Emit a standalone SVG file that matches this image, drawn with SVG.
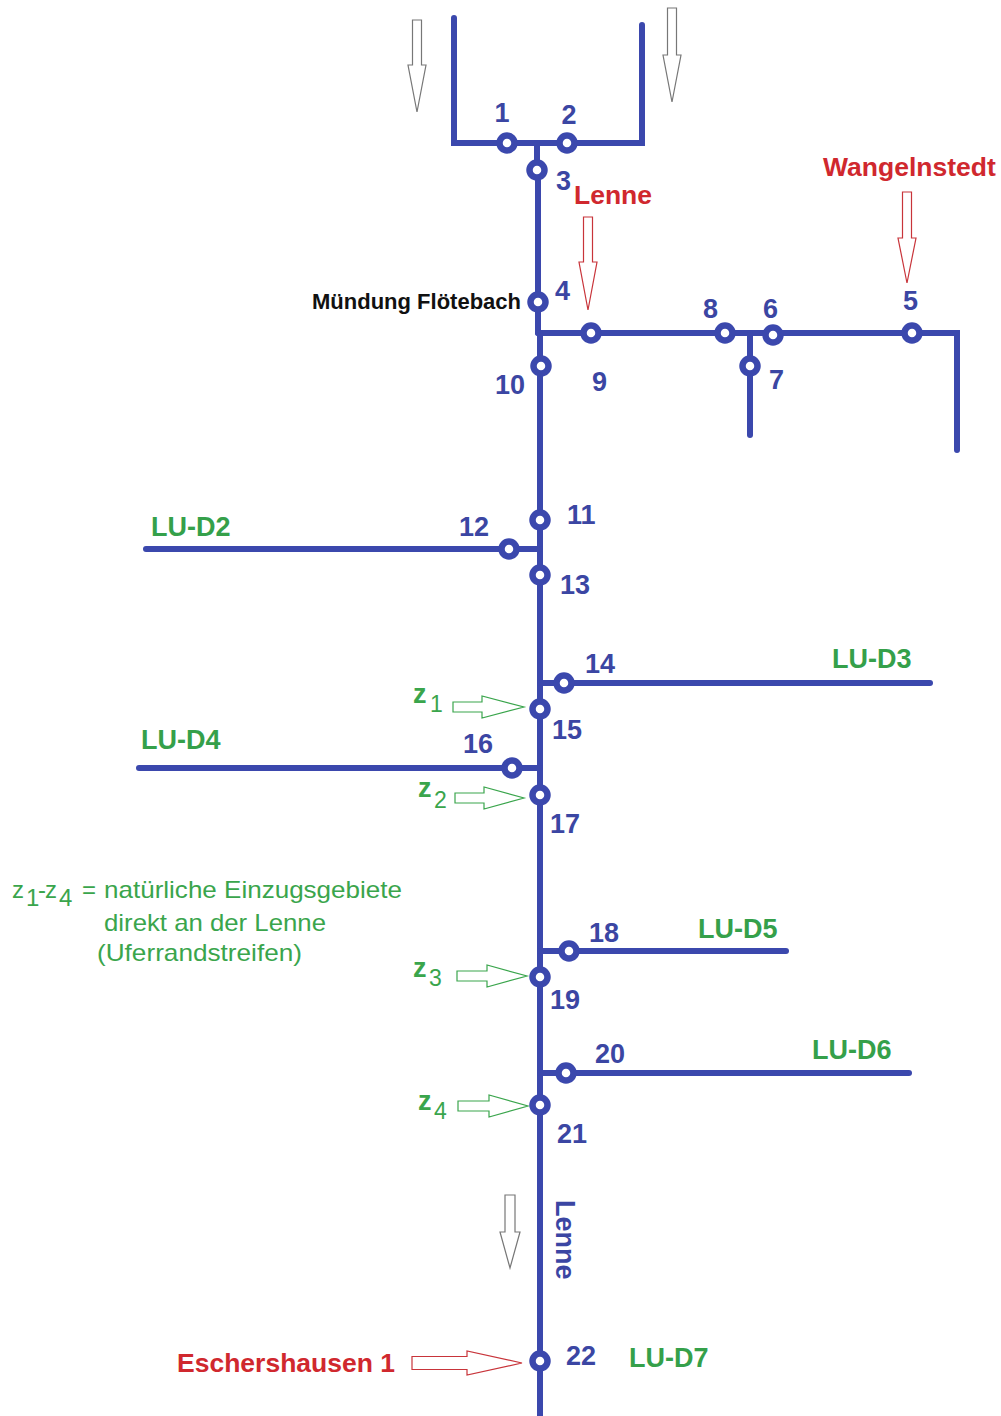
<svg xmlns="http://www.w3.org/2000/svg" width="1001" height="1416" viewBox="0 0 1001 1416">
<style>
.ln{stroke:#3b48ad;stroke-width:6;fill:none;stroke-linecap:round}
.nd{fill:#fff;stroke:#3b48ad;stroke-width:6.5}
.num{font-family:"Liberation Sans",Arial,sans-serif;font-size:27px;font-weight:bold;fill:#3b46a3}
.lu{font-family:"Liberation Sans",Arial,sans-serif;font-size:27px;font-weight:bold;fill:#35a04a}
.red{font-family:"Liberation Sans",Arial,sans-serif;font-size:26.5px;font-weight:bold;fill:#d0282e}
.blk{font-family:"Liberation Sans",Arial,sans-serif;font-size:22px;font-weight:bold;fill:#111}
.zl{font-family:"Liberation Sans",Arial,sans-serif;font-size:27px;font-weight:bold;fill:#3aa54c}
.zs{font-family:"Liberation Sans",Arial,sans-serif;font-size:23px;fill:#3aa54c}
.lg{font-family:"Liberation Sans",Arial,sans-serif;font-size:24px;fill:#3aa54c}
.ag{fill:#fff;stroke:#777;stroke-width:1.2}
.ar{fill:#fff;stroke:#c8343a;stroke-width:1.2}
.agr{fill:#fff;stroke:#3aa54c;stroke-width:1.2}
</style>
<rect width="1001" height="1416" fill="#fff"/>
<g id="connectors">
<path class="ln" d="M454 18 V143 H642 V25"/>
<path class="ln" d="M537 143 V170"/>
<path class="ln" d="M538 170 V333"/>
<path class="ln" d="M538 333 H957 V450"/>
<path class="ln" d="M750 333 V435"/>
<path class="ln" d="M540 333 V1416"/>
<path class="ln" d="M146 549 H540"/>
<path class="ln" d="M540 683 H930"/>
<path class="ln" d="M139 768 H540"/>
<path class="ln" d="M540 951 H786"/>
<path class="ln" d="M540 1073 H909"/>
</g>
<g id="arrows">
<polygon class="ag" points="412.5,20 421.5,20 421.5,65 426,65 417,112 408,65 412.5,65"/>
<polygon class="ag" points="667.5,8 676.5,8 676.5,55 681,55 672,102 663,55 667.5,55"/>
<polygon class="ar" points="583.5,217 592.5,217 592.5,262 597,262 588,310 579,262 583.5,262"/>
<polygon class="ar" points="902.5,192 911.5,192 911.5,238 916,238 907,283 898,238 902.5,238"/>
<polygon class="ag" points="505,1195 515,1195 515,1232 520,1232 510,1268 500,1232 505,1232"/>
<polygon class="agr" points="453,702 482,702 482,696 524,707 482,718 482,712 453,712"/>
<polygon class="agr" points="455,793 484,793 484,787 524,798 484,809 484,803 455,803"/>
<polygon class="agr" points="457,971 487,971 487,965 527,976 487,987 487,981 457,981"/>
<polygon class="agr" points="458,1101 489,1101 489,1095 528,1106 489,1117 489,1111 458,1111"/>
<polygon class="ar" points="412,1356.5 467,1356.5 467,1351 522,1363 467,1375 467,1369.5 412,1369.5"/>
</g>
<g id="n1"><circle class="nd" cx="507" cy="143" r="7.5"/><text class="num" x="502" y="122" text-anchor="middle">1</text></g>
<g id="n2"><circle class="nd" cx="567" cy="143" r="7.5"/><text class="num" x="569" y="124" text-anchor="middle">2</text></g>
<g id="n3"><circle class="nd" cx="537" cy="170" r="7.5"/><text class="num" x="556" y="190">3</text></g>
<g id="n4"><circle class="nd" cx="538" cy="302" r="7.5"/><text class="num" x="555" y="300">4</text></g>
<g id="n5"><circle class="nd" cx="912" cy="333" r="7.5"/><text class="num" x="903" y="310">5</text></g>
<g id="n6"><circle class="nd" cx="773" cy="335" r="7.5"/><text class="num" x="763" y="318">6</text></g>
<g id="n7"><circle class="nd" cx="750" cy="366" r="7.5"/><text class="num" x="769" y="389">7</text></g>
<g id="n8"><circle class="nd" cx="725" cy="333" r="7.5"/><text class="num" x="703" y="318">8</text></g>
<g id="n9"><circle class="nd" cx="591" cy="333" r="7.5"/><text class="num" x="592" y="391">9</text></g>
<g id="n10"><circle class="nd" cx="541" cy="366" r="7.5"/><text class="num" x="495" y="394">10</text></g>
<g id="n11"><circle class="nd" cx="540" cy="520" r="7.5"/><text class="num" x="567" y="524">11</text></g>
<g id="n12"><circle class="nd" cx="509" cy="549" r="7.5"/><text class="num" x="459" y="536">12</text></g>
<g id="n13"><circle class="nd" cx="540" cy="575" r="7.5"/><text class="num" x="560" y="594">13</text></g>
<g id="n14"><circle class="nd" cx="564" cy="683" r="7.5"/><text class="num" x="585" y="673">14</text></g>
<g id="n15"><circle class="nd" cx="540" cy="709" r="7.5"/><text class="num" x="552" y="739">15</text></g>
<g id="n16"><circle class="nd" cx="512" cy="768" r="7.5"/><text class="num" x="463" y="753">16</text></g>
<g id="n17"><circle class="nd" cx="540" cy="795" r="7.5"/><text class="num" x="550" y="833">17</text></g>
<g id="n18"><circle class="nd" cx="569" cy="951" r="7.5"/><text class="num" x="589" y="942">18</text></g>
<g id="n19"><circle class="nd" cx="540" cy="977" r="7.5"/><text class="num" x="550" y="1009">19</text></g>
<g id="n20"><circle class="nd" cx="566" cy="1073" r="7.5"/><text class="num" x="595" y="1063">20</text></g>
<g id="n21"><circle class="nd" cx="540" cy="1105" r="7.5"/><text class="num" x="557" y="1143">21</text></g>
<g id="n22"><circle class="nd" cx="540" cy="1361" r="7.5"/><text class="num" x="566" y="1365">22</text></g>
<g id="labels">
<text class="red" x="574" y="204">Lenne</text>
<text class="red" x="823" y="176">Wangelnstedt</text>
<text class="blk" x="521" y="309" text-anchor="end">Mündung Flötebach</text>
<text class="lu" x="151" y="536">LU-D2</text>
<text class="lu" x="832" y="668">LU-D3</text>
<text class="lu" x="141" y="749">LU-D4</text>
<text class="lu" x="698" y="938">LU-D5</text>
<text class="lu" x="812" y="1059">LU-D6</text>
<text class="lu" x="629" y="1367">LU-D7</text>
<text class="zl" x="413" y="703">z</text><text class="zs" x="430" y="712">1</text>
<text class="zl" x="418" y="797">z</text><text class="zs" x="434" y="808">2</text>
<text class="zl" x="413" y="977">z</text><text class="zs" x="429" y="986">3</text>
<text class="zl" x="418" y="1110">z</text><text class="zs" x="434" y="1119">4</text>
<text class="red" x="177" y="1372">Eschershausen 1</text>
<text class="num" transform="translate(556,1200) rotate(90)">Lenne</text>
</g>
<g id="legend">
<text class="lg" x="12" y="898">z</text><text class="lg" x="26" y="906" font-size="21">1</text><text class="lg" x="38" y="898">-</text><text class="lg" x="45" y="898">z</text><text class="lg" x="59" y="906" font-size="21">4</text>
<text class="lg" x="82" y="898">=</text>
<text class="lg" x="104" y="898" textLength="298" lengthAdjust="spacingAndGlyphs">natürliche Einzugsgebiete</text>
<text class="lg" x="104" y="931" textLength="222" lengthAdjust="spacingAndGlyphs">direkt an der Lenne</text>
<text class="lg" x="97" y="961" textLength="205" lengthAdjust="spacingAndGlyphs">(Uferrandstreifen)</text>
</g>
</svg>
